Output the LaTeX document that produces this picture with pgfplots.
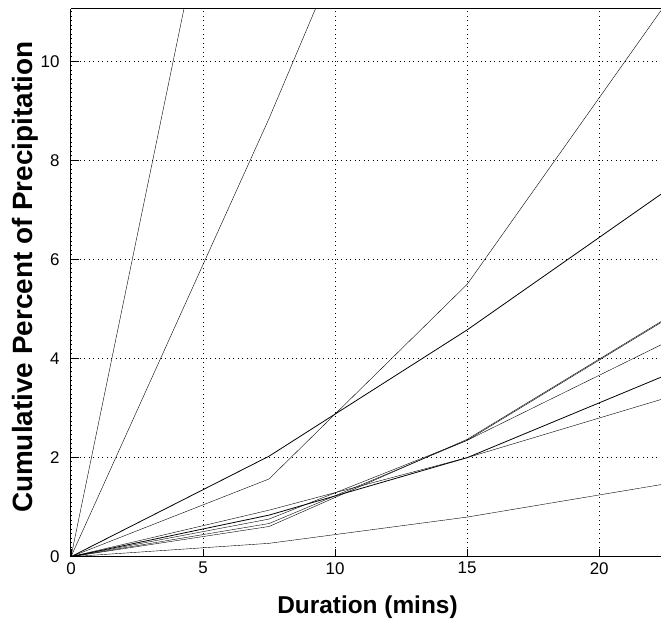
\documentclass[border=0pt]{standalone}
\usepackage{fontspec}
\setmainfont{Liberation Sans}
\usepackage{pgfplots}
\pgfplotsset{compat=1.18}
\usetikzlibrary{calc}
\begin{document}
\begin{tikzpicture}
\begin{axis}[
 name=ax,
 scale only axis,
 width=590bp, height=547.7bp,
 xmin=0, xmax=22.34, ymin=0, ymax=11.06,
 xtick={0,5,10,15,20}, ytick={0,2,4,6,8,10},
 xtick pos=bottom, ytick pos=left,
 grid=major,
 major grid style={black, line width=0.6bp, dash pattern=on 1bp off 3.5bp},
 tick align=inside,
 major tick length=8bp,
 tick style={black, line width=0.8bp},
 axis x line*=box, axis y line*=left,
 axis line style={-, line width=1bp},
 ticklabel style={font=\fontsize{17}{17}\selectfont},
 /pgf/number format/assume math mode=true,
 xticklabel style={yshift=-2bp},
 yticklabel style={xshift=-8bp},
 xlabel={Duration (mins)},
 ylabel={Cumulative Percent of Precipitation},
 xlabel style={at={(axis description cs:0.5025,-0.1028)}, anchor=base, font=\bfseries\fontsize{24.5}{25}\selectfont},
 ylabel style={at={(axis description cs:-0.0644,0.51)}, anchor=base, font=\bfseries\fontsize{28}{28}\selectfont},
 clip=true,
 cycle list={{black, solid, mark=none, line width=0.8bp}},
]
\addplot coordinates {(0,0) (7.5,19.4)};
\addplot coordinates {(0,0) (7.5,8.85) (15,18.3)};
\addplot coordinates {(0,0) (7.5,1.57) (15,5.5) (22.5,11.15)};
\addplot coordinates {(0,0) (7.5,2.03) (15,4.58) (22.5,7.38)};
\addplot coordinates {(0,0) (7.5,0.61) (15,2.37) (22.5,4.80)};
\addplot coordinates {(0,0) (7.5,0.67) (15,2.35) (22.5,4.78)};
\addplot coordinates {(0,0) (7.5,0.76) (15,2.35) (22.5,4.32)};
\addplot coordinates {(0,0) (7.5,0.84) (15,2.00) (22.5,3.66)};
\addplot coordinates {(0,0) (7.5,0.94) (15,2.00) (22.5,3.20)};
\addplot coordinates {(0,0) (7.5,0.27) (15,0.80) (22.5,1.47)};
\end{axis}
\pgfresetboundingbox
\path[use as bounding box] ($(ax.south west)+(-71bp,-63.3bp)$) rectangle ($(ax.north east)+(0bp,9bp)$);
\end{tikzpicture}
\end{document}
